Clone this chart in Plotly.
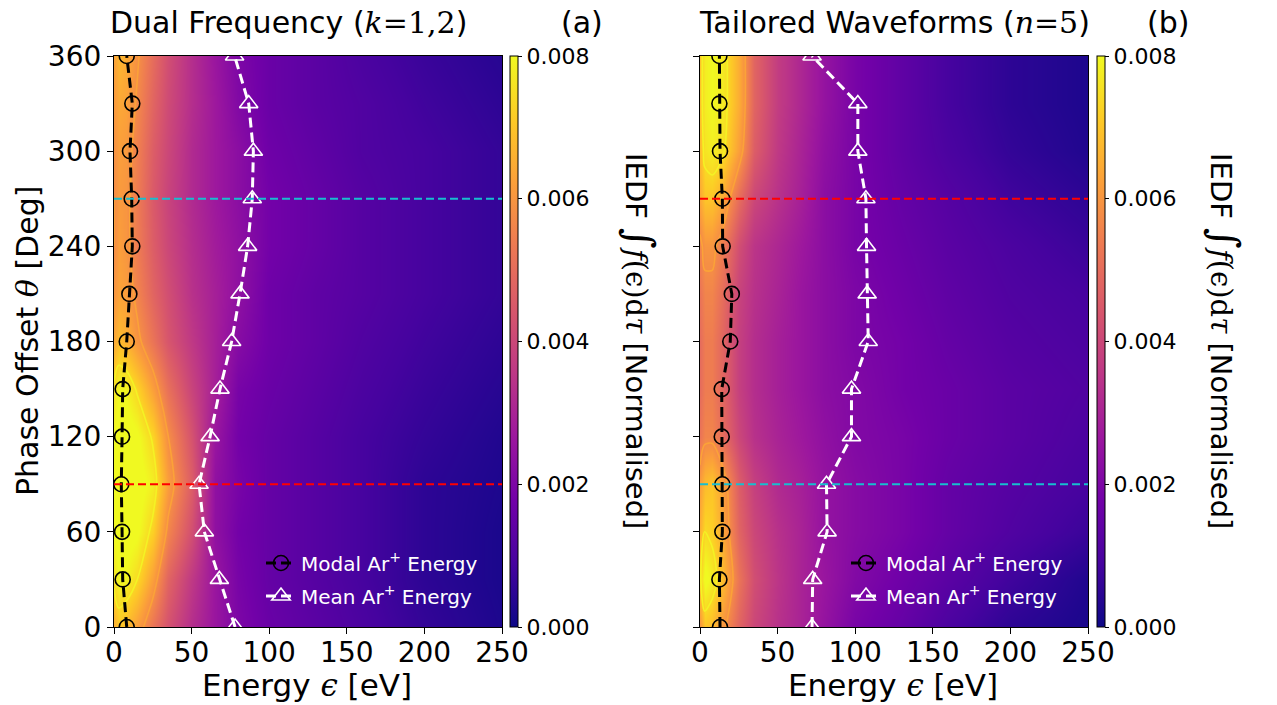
import plotly.graph_objects as go

W, H = 1277, 705

# ---------------- data ----------------
theta = [0, 30, 60, 90, 120, 150, 180, 210, 240, 270, 300, 330, 360]

modal_a = [8.2, 5.6, 5.2, 4.7, 5.2, 5.6, 8.2, 9.9, 11.8, 11.4, 10.3, 11.8, 8.2]
mean_a = [78.0, 67.9, 58.2, 54.8, 61.9, 68.3, 75.8, 81.2, 86.1, 89.1, 89.8, 86.8, 77.7]

modal_b = [12.9, 12.5, 14.4, 14.4, 14.0, 14.0, 19.5, 20.5, 14.6, 14.4, 12.9, 12.5, 12.5]
mean_b = [72.2, 72.6, 81.9, 81.5, 97.6, 97.6, 108.4, 107.7, 107.3, 106.9, 101.7, 101.7, 72.2]

# IEDF map (x 1e-3, normalised), rows = theta, cols = energy
energy_grid = [0, 3, 8, 15, 25, 35, 50, 65, 80, 100, 130, 160, 200, 250]
iedf_a = [
    [6.5, 7.0, 6.8, 6.2, 5.2, 4.3, 3.3, 2.6, 2.0, 1.6, 1.3, 1.0, 0.6, 0.25],
    [7.6, 8.0, 7.9, 7.4, 6.2, 4.8, 3.6, 2.6, 1.9, 1.5, 1.2, 0.9, 0.5, 0.2],
    [8.0, 8.2, 8.3, 8.1, 7.2, 5.6, 4.2, 2.4, 1.8, 1.5, 1.2, 0.9, 0.5, 0.2],
    [8.0, 8.3, 8.4, 8.3, 7.8, 6.2, 4.6, 2.4, 1.9, 1.5, 1.2, 0.9, 0.5, 0.25],
    [8.0, 8.2, 8.3, 8.1, 7.3, 5.8, 4.3, 2.6, 1.8, 1.5, 1.2, 0.9, 0.6, 0.3],
    [7.6, 8.0, 7.9, 7.3, 6.2, 5.1, 3.9, 2.9, 1.9, 1.6, 1.3, 1.0, 0.7, 0.4],
    [6.4, 6.8, 6.6, 6.0, 5.2, 4.4, 3.6, 2.9, 2.2, 1.7, 1.4, 1.1, 0.8, 0.5],
    [6.0, 6.3, 6.2, 5.6, 4.8, 4.2, 3.4, 2.9, 2.4, 1.7, 1.4, 1.2, 0.9, 0.6],
    [5.8, 6.2, 6.0, 5.4, 4.6, 4.0, 3.3, 2.8, 2.4, 1.8, 1.5, 1.2, 0.9, 0.6],
    [5.8, 6.1, 6.0, 5.4, 4.5, 3.9, 3.2, 2.7, 2.3, 1.8, 1.5, 1.2, 0.9, 0.6],
    [5.9, 6.2, 6.1, 5.5, 4.6, 4.0, 3.2, 2.7, 2.3, 1.7, 1.4, 1.1, 0.9, 0.6],
    [6.1, 6.4, 6.3, 5.7, 4.8, 4.1, 3.3, 2.7, 2.1, 1.6, 1.3, 1.1, 0.8, 0.5],
    [6.3, 6.7, 6.5, 5.9, 5.0, 4.2, 3.3, 2.6, 2.0, 1.6, 1.3, 1.0, 0.7, 0.4],
]
iedf_b = [
    [6.0, 7.0, 6.8, 6.0, 4.8, 4.0, 3.4, 3.0, 2.5, 1.9, 1.5, 1.0, 0.5, 0.2],
    [7.2, 8.2, 7.8, 6.8, 5.2, 4.2, 3.5, 3.0, 2.6, 2.1, 1.7, 1.3, 0.8, 0.3],
    [6.6, 7.4, 7.2, 6.4, 4.8, 4.0, 3.4, 3.0, 2.5, 2.2, 1.9, 1.5, 1.1, 0.7],
    [6.2, 6.8, 7.0, 6.2, 4.6, 3.8, 3.2, 2.9, 2.5, 2.2, 1.9, 1.5, 1.2, 0.9],
    [5.2, 5.6, 5.6, 5.0, 4.0, 3.4, 3.0, 2.7, 2.4, 2.1, 1.9, 1.6, 1.3, 1.0],
    [5.0, 5.4, 5.4, 4.8, 3.8, 3.3, 2.9, 2.6, 2.3, 2.1, 1.8, 1.6, 1.3, 1.1],
    [5.0, 5.4, 5.4, 4.8, 3.8, 3.3, 2.9, 2.6, 2.3, 2.0, 1.8, 1.5, 1.2, 1.0],
    [5.2, 5.6, 5.6, 5.0, 3.9, 3.4, 3.0, 2.6, 2.3, 2.0, 1.7, 1.4, 1.1, 0.9],
    [5.6, 6.0, 6.0, 5.4, 4.2, 3.5, 3.1, 2.7, 2.3, 1.9, 1.6, 1.3, 1.0, 0.7],
    [6.4, 7.0, 7.0, 6.4, 5.0, 4.0, 3.4, 2.9, 2.3, 1.9, 1.5, 1.2, 0.8, 0.5],
    [6.8, 7.6, 7.8, 7.5, 6.2, 4.6, 3.6, 3.0, 2.4, 1.9, 1.4, 1.0, 0.6, 0.3],
    [7.0, 7.8, 8.0, 7.7, 6.5, 4.8, 3.7, 3.1, 2.5, 1.9, 1.4, 0.9, 0.5, 0.25],
    [7.0, 7.8, 8.0, 7.7, 6.5, 4.8, 3.7, 3.1, 2.5, 1.9, 1.4, 0.9, 0.5, 0.25],
]

x_ticks = [0, 50, 100, 150, 200, 250]
y_ticks = [0, 60, 120, 180, 240, 300, 360]
cbar_ticks = [0.000, 0.002, 0.004, 0.006, 0.008]

# contour levels drawn over the map: (level, colour)
contour_levels = [(0.0058, "#fba238"), (0.0074, "#f4f224")]

# dashed reference lines (theta): (panel, theta, colour)
ref_lines = [("a", 90, "#ff0000"), ("a", 270, "#17becf"),
             ("b", 270, "#ff0000"), ("b", 90, "#17becf")]

# ---------------- layout helpers ----------------
def px_x(p):
    return p / W

def px_y(p):
    return 1 - p / H

FONT = "DejaVu Sans"
SERIF = "DejaVu Serif"

dom_a = [px_x(114), px_x(502)]
dom_b = [px_x(700), px_x(1088)]
dom_y = [px_y(627), px_y(56)]

fig = go.Figure()

def add_panel(xa, ya, z, modal, mean, cbx, leg_modal, leg_mean):
    zz = [[v * 1e-3 for v in row] for row in z]
    fig.add_trace(go.Heatmap(
        x=energy_grid, y=theta, z=zz, zmin=0, zmax=0.008,
        colorscale="Plasma", zsmooth="best", xaxis=xa, yaxis=ya,
        hoverinfo="skip",
        colorbar=dict(
            x=cbx, xanchor="left", xpad=0, ypad=0,
            y=(dom_y[0] + dom_y[1]) / 2, yanchor="middle",
            len=dom_y[1] - dom_y[0], lenmode="fraction",
            thickness=8, outlinewidth=1, outlinecolor="black",
            tickvals=cbar_ticks, tickformat=".3f", ticks="outside",
            ticklen=4, tickcolor="black",
            tickfont=dict(family=FONT, size=22, color="black"),
        ),
    ))
    for lev, col in contour_levels:
        fig.add_trace(go.Contour(
            x=energy_grid, y=theta, z=zz, xaxis=xa, yaxis=ya,
            showscale=False, autocontour=False,
            contours=dict(coloring="none", start=lev, end=lev, size=0.001),
            line=dict(width=1.6, color=col, smoothing=0.8),
            hoverinfo="skip", showlegend=False,
        ))
    fig.add_trace(go.Scatter(
        x=modal, y=theta, mode="lines+markers", xaxis=xa, yaxis=ya,
        name="Modal Ar<sup>+</sup> Energy", legend=leg_modal, showlegend=True,
        line=dict(color="black", width=3, dash="10px,5px"),
        marker=dict(symbol="circle-open", size=15, color="black",
                    line=dict(width=1.6, color="black")),
    ))
    fig.add_trace(go.Scatter(
        x=mean, y=theta, mode="lines+markers", xaxis=xa, yaxis=ya,
        name="Mean Ar<sup>+</sup> Energy", legend=leg_mean, showlegend=True,
        line=dict(color="white", width=3, dash="10px,5px"),
        marker=dict(symbol="triangle-up-open", size=16, color="white",
                    line=dict(width=1.6, color="white")),
    ))

add_panel("x", "y", iedf_a, modal_a, mean_a, px_x(510), "legend", "legend2")
add_panel("x2", "y2", iedf_b, modal_b, mean_b, px_x(1097), "legend3", "legend4")

axis_common = dict(
    showgrid=False, zeroline=False, showline=True, linecolor="black",
    linewidth=1.2, mirror=True, ticks="outside", ticklen=6, tickwidth=1.2,
    tickcolor="black", tickfont=dict(family=FONT, size=28, color="black"),
)

def leg(xp, yp):
    return dict(x=px_x(xp), xanchor="left", y=px_y(yp), yanchor="middle",
                bgcolor="rgba(0,0,0,0)", borderwidth=0,
                font=dict(family=FONT, size=20, color="white"),
                itemwidth=30, visible=True)

fig.update_layout(
    width=W, height=H, margin=dict(l=0, r=0, t=0, b=0, autoexpand=False),
    paper_bgcolor="white", plot_bgcolor="white", showlegend=True,
    xaxis=dict(domain=dom_a, range=[0, 250], tickvals=x_ticks, anchor="y",
               ticklabelstandoff=-6, **axis_common),
    yaxis=dict(domain=dom_y, range=[0, 360], tickvals=y_ticks, anchor="x", **axis_common),
    xaxis2=dict(domain=dom_b, range=[0, 250], tickvals=x_ticks, anchor="y2",
                ticklabelstandoff=-6, **axis_common),
    yaxis2=dict(domain=dom_y, range=[0, 360], tickvals=y_ticks, anchor="x2",
                showticklabels=False, **{k: v for k, v in axis_common.items() if k != "tickfont"}),
    legend=leg(261, 563),
    legend2=leg(261, 596),
    legend3=leg(846, 563),
    legend4=leg(846, 596),
)

for panel, th, col in ref_lines:
    xr, yr = ("x", "y") if panel == "a" else ("x2", "y2")
    fig.add_shape(type="line", xref=xr, yref=yr, x0=0, x1=250, y0=th, y1=th,
                  line=dict(color=col, width=2, dash="8px,4px"), layer="above")

def ann(text, xp, yp, size, angle=0, xanchor="center"):
    fig.add_annotation(text=text, x=px_x(xp), y=px_y(yp), xref="paper", yref="paper",
                       showarrow=False, textangle=angle, xanchor=xanchor, yanchor="middle",
                       font=dict(family=FONT, size=size, color="black"))

ann(f"Dual Frequency (<span style='font-family:{SERIF}'><i>k</i>=1,2</span>)", 108, 22, 30, xanchor="left")
ann("(a)", 582, 22, 30)
ann(f"Tailored Waveforms (<span style='font-family:{SERIF}'><i>n</i>=5</span>)", 697, 22, 30, xanchor="left")
ann("(b)", 1168, 22, 30)

ann(f"Energy <span style='font-family:{SERIF}'><i>ϵ</i></span> [eV]", 307, 685, 31)
ann(f"Energy <span style='font-family:{SERIF}'><i>ϵ</i></span> [eV]", 893, 685, 31)
ann(f"Phase Offset <span style='font-family:{SERIF}'><i>θ</i></span> [Deg]", 28, 341, 30, angle=-90)

cb_title = (f"IEDF <span style='font-family:{SERIF}'><span style='font-size:40px'>∫</span>"
            f"<i>f</i>(ϵ)d<i>τ</i></span> [Normalised]")
ann(cb_title, 640, 341, 29, angle=90)
ann(cb_title, 1225, 341, 29, angle=90)

fig.write_html("out.html", config={"displayModeBar": False},
               post_script="document.body.style.margin='0px';")
